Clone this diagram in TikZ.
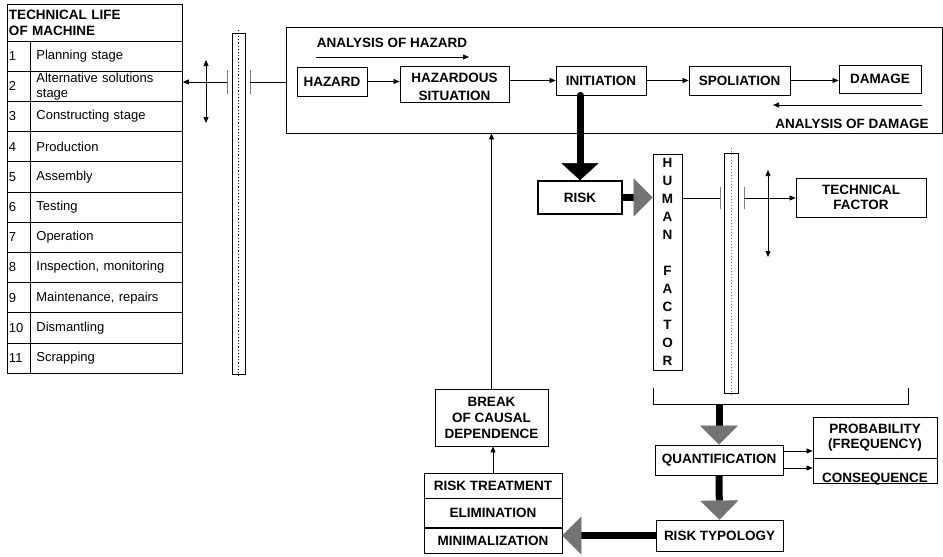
\documentclass[tikz,border=0pt]{standalone}
\usepackage{fontspec}
\setmainfont{Liberation Sans}
\usetikzlibrary{arrows.meta,positioning,calc}

\begin{document}
\begin{tikzpicture}[
  x=1pt, y=-1pt,
  line width=0.8pt,
  every node/.style={inner sep=0pt},
  capbox/.style={draw, align=center, font=\fontsize{13.5}{15}\selectfont\bfseries},
  caplbl/.style={font=\fontsize{13.5}{15}\selectfont\bfseries},
  rownum/.style={draw, minimum width=23pt, minimum height=30.2pt, text width=19pt,
                 inner xsep=2pt, align=left, font=\fontsize{13}{15}\selectfont},
  rowtxt/.style={draw, anchor=west, minimum width=152pt, minimum height=30.2pt, text width=140pt,
                 inner xsep=6pt, align=left, font=\fontsize{13}{15}\selectfont},
  pillar/.style={draw, minimum width=13pt},
  tickmark/.style={gray, line width=1pt},
  thinarr/.style={line width=0.6pt, -{Triangle[length=6pt,width=5pt]}},
  dblarr/.style={line width=0.6pt, {Triangle[length=6pt,width=5pt]}-{Triangle[length=6pt,width=5pt]}},
  fatarr/.style={line width=7pt, -{Triangle[length=19pt,width=38pt,line width=0.4pt,color=black!55,fill=black!55]}},
  fatblk/.style={line width=7pt, line cap=round, -{Triangle[length=17pt,width=37pt,line width=0.4pt]}},
]
  \useasboundingbox (0,0) rectangle (943,557);

  % Technical life table
  \node[draw, minimum width=175pt, minimum height=37pt, text width=171pt, inner xsep=2pt, align=left,
        font=\fontsize{13.5}{16}\selectfont\bfseries] (tlife) at (94.5,22.5) {TECHNICAL LIFE\\OF MACHINE};
  \foreach \n/\txt in {1/Planning stage, 2/{Alternative solutions\\stage}, 3/Constructing stage,
                       4/Production, 5/Assembly, 6/Testing, 7/Operation, 8/{Inspection, monitoring},
                       9/{Maintenance, repairs}, 10/Dismantling, 11/Scrapping} {
    \node[rownum] (n\n) at (18.5,{41+30.2*(\n-0.5)}) {\n};
    \node[rowtxt] (t\n) at (30,{41+30.2*(\n-0.5)}) {\txt};
  }

  % Left pillar
  \node[pillar, minimum height=341pt] (pillA) at (238.5,203.5) {};
  \draw[dotted, line width=1.2pt] ([yshift=3pt]pillA.north) -- ([yshift=-3pt]pillA.south);
  \coordinate (tkA) at (227,82);
  \coordinate (tkB) at (250,82);
  \draw[tickmark] ([yshift=12pt]tkA) -- ([yshift=-12pt]tkA);
  \draw[tickmark] ([yshift=12pt]tkB) -- ([yshift=-12pt]tkB);
  \coordinate (vaT) at (206,60);
  \coordinate (vaB) at (206,123);
  \draw[dblarr] (vaT) -- (vaB);

  % Analysis frame
  \node[draw, minimum width=656pt, minimum height=106pt] (frame) at (614,80) {};
  \draw[thinarr] (tkA) -- (tkA -| t2.east);
  \draw[line width=0.6pt] (tkB) -- (tkB -| frame.west);

  \node[caplbl] (anhaz) at (392,43) {ANALYSIS OF HAZARD};
  \coordinate (ahS) at (316,57);
  \coordinate (ahE) at (469,57);
  \draw[thinarr] (ahS) -- (ahE);

  \node[capbox, minimum width=70pt, minimum height=29pt] (hazard) at (332,81.5) {HAZARD};
  \node[capbox, minimum width=109pt, minimum height=36pt, font=\fontsize{13.5}{18}\selectfont\bfseries]
        (hazsit) at (454.5,84) {\rule{0pt}{16pt}HAZARDOUS\\SITUATION};
  \node[capbox, minimum width=90pt, minimum height=29pt] (init) at (601,80.5) {INITIATION};
  \node[capbox, minimum width=101pt, minimum height=29pt] (spol) at (739.5,80.5) {SPOLIATION};
  \node[capbox, minimum width=82pt, minimum height=28pt] (damage) at (880,79) {DAMAGE};

  \draw[thinarr] (hazard.east) -- (hazard.east -| hazsit.west);
  \draw[thinarr] (hazsit.east |- init.west) -- (init.west);
  \draw[thinarr] (init.east) -- (spol.west);
  \draw[thinarr] (spol.east) -- (spol.east -| damage.west);

  \coordinate (adS) at (922,105);
  \coordinate (adE) at (773,105);
  \draw[thinarr] (adS) -- (adE);
  \node[caplbl] (andam) at (852,124) {ANALYSIS OF DAMAGE};

  % Risk and factors
  \node[capbox, line width=1.6pt, minimum width=84pt, minimum height=33pt] (risk) at (580,197.5) {RISK};
  \draw[fatblk] (risk.north |- init.south) -- (risk.north);

  \node[capbox, minimum width=29pt, minimum height=216pt, font=\fontsize{13.5}{18}\selectfont\bfseries]
        (human) at (667.5,262) {H\\U\\M\\A\\N\\[18pt]F\\A\\C\\T\\O\\R};
  \draw[fatarr] (risk.east) -- (risk.east -| human.west);

  \node[pillar, minimum width=14pt, minimum height=240pt] (pillB) at (731,273) {};
  \draw[dotted, gray, line width=1pt] ([yshift=5pt]pillB.north) -- ([yshift=-3pt]pillB.south);
  \coordinate (tkC) at (720,198);
  \coordinate (tkD) at (744,198);
  \draw[tickmark] ([yshift=11pt]tkC) -- ([yshift=-11pt]tkC);
  \draw[tickmark] ([yshift=11pt]tkD) -- ([yshift=-11pt]tkD);
  \coordinate (vbT) at (768,170);
  \coordinate (vbB) at (768,257);
  \draw[dblarr] (vbT) -- (vbB);

  \node[capbox, minimum width=130pt, minimum height=39pt] (tfac) at (861,197.5) {TECHNICAL\\FACTOR};
  \draw[line width=0.6pt] (human.east |- tkC) -- (tkC);
  \draw[thinarr] (tkD) -- (tkD -| tfac.west);

  % Bracket
  \coordinate (brL) at (653,388);
  \coordinate (brR) at (908,388);
  \coordinate (brM) at (719,404);
  \draw (brL) -- (brL |- brM) -- (brR |- brM) -- (brR);

  % Quantification
  \node[capbox, minimum width=128pt, minimum height=30pt] (quant) at (719,460) {QUANTIFICATION};
  \draw[fatarr] (brM) -- (quant.north);
  \node[capbox, minimum width=124pt, minimum height=41pt] (prob) at (875,437.5) {PROBABILITY\\(FREQUENCY)};
  \node[capbox, minimum width=124pt, minimum height=25pt, text height=23pt, text depth=0pt,
        below=0pt of prob] (conseq) {CONSEQUENCE};
  \draw[thinarr] ([yshift=9pt]quant.east) -- ([yshift=9pt]quant.east -| prob.west);
  \draw[thinarr] ([yshift=-8pt]quant.east) -- ([yshift=-8pt]quant.east -| conseq.west);

  \node[capbox, minimum width=127pt, minimum height=31pt] (rtyp) at (719.5,535.5) {RISK TYPOLOGY};
  \draw[fatarr] (quant.south) -- (rtyp.north);

  % Risk treatment
  \node[capbox, minimum width=138pt, minimum height=25pt] (treat) at (493,485.5) {RISK TREATMENT};
  \node[capbox, minimum width=138pt, minimum height=29pt, below=0pt of treat] (elim) {ELIMINATION};
  \node[capbox, minimum width=138pt, minimum height=25pt, below=0pt of elim] (minim) {MINIMALIZATION};
  \draw[fatarr] (rtyp.west) -- (rtyp.west -| treat.east);

  \node[capbox, minimum width=113pt, minimum height=57pt, font=\fontsize{13.5}{16}\selectfont\bfseries]
        (brkcaus) at (491.5,417.5) {BREAK\\OF CAUSAL\\DEPENDENCE};
  \draw[thinarr] (treat.north) -- (treat.north |- brkcaus.south);
  \draw[thinarr] (brkcaus.north) -- (brkcaus.north |- frame.south);
\end{tikzpicture}
\end{document}
